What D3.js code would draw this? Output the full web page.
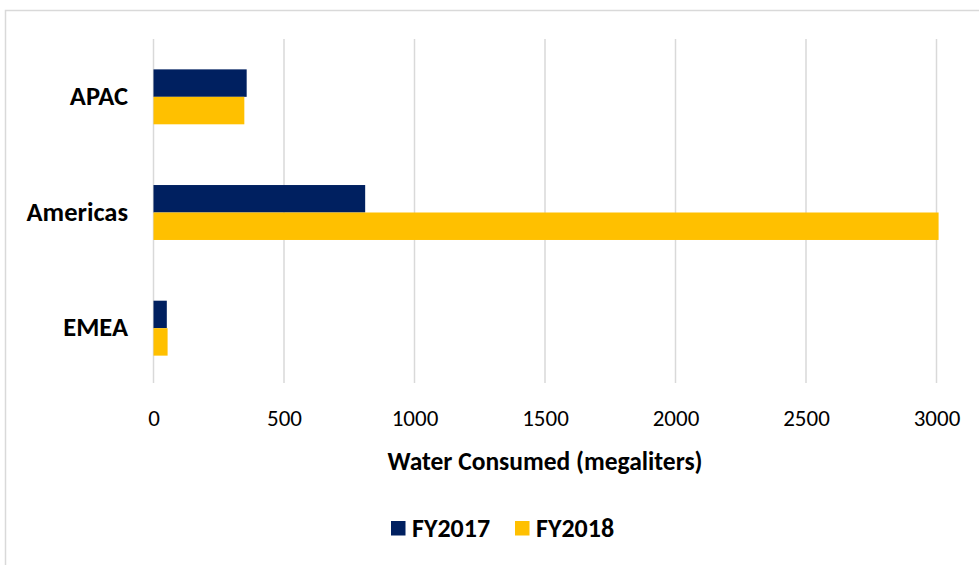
<!DOCTYPE html>
<html>
<head>
<meta charset="utf-8">
<style>
  html, body { margin: 0; padding: 0; background: #fff; }
  svg { display: block; font-family: Carlito, Calibri, "Liberation Sans", sans-serif; }
</style>
</head>
<body>
<svg width="979" height="565"></svg>
<script src="https://d3js.org/d3.v7.min.js"></script>
<script>

var regions = ["APAC", "Americas", "EMEA"];
var series = ["FY2017", "FY2018"];
var fy2017 = [357, 811, 51];
var fy2018 = [348, 3008, 54];
var xTicks = [0, 500, 1000, 1500, 2000, 2500, 3000];
var colors = ["#002060", "#FFC000"];

var svg = d3.select("svg"),
    width = +svg.attr("width"),
    height = +svg.attr("height");

var font = "Carlito, Calibri, 'Liberation Sans', sans-serif";

// chart frame (only left and top edges are visible)
svg.append("rect")
    .attr("x", 5.5).attr("y", 10.5)
    .attr("width", width + 10).attr("height", height + 10)
    .attr("fill", "none")
    .attr("stroke", "#d9d9d9")
    .attr("stroke-width", 1.5);

var plot = {left: 153.5, right: 936.5, top: 39, bottom: 386};

var x = d3.scaleLinear()
    .domain([0, 3000])
    .range([plot.left, plot.right]);

var y = d3.scaleBand()
    .domain(regions)
    .range([plot.top, plot.bottom])
    .paddingInner(0.525)
    .paddingOuter(0.2625);

var ySub = d3.scaleBand()
    .domain(series)
    .range([0, y.bandwidth()]);

// gridlines
svg.append("g")
  .selectAll("line")
  .data(xTicks)
  .join("line")
    .attr("x1", function(d) { return x(d); })
    .attr("x2", function(d) { return x(d); })
    .attr("y1", plot.top)
    .attr("y2", plot.bottom - 3)
    .attr("stroke", "#d9d9d9")
    .attr("stroke-width", 1.5);

var rows = regions.map(function(r, i) {
  return {region: r, values: [fy2017[i], fy2018[i]]};
});

var group = svg.append("g")
  .selectAll("g")
  .data(rows)
  .join("g")
    .attr("transform", function(d) { return "translate(0," + y(d.region) + ")"; });

group.selectAll("rect")
  .data(function(d) { return d.values.map(function(v, j) { return {s: series[j], v: v, j: j}; }); })
  .join("rect")
    .attr("x", x(0))
    .attr("y", function(d) { return ySub(d.s); })
    .attr("width", function(d) { return x(d.v) - x(0); })
    .attr("height", ySub.bandwidth())
    .attr("fill", function(d) { return colors[d.j]; });

// category labels
svg.append("g")
  .selectAll("text")
  .data(regions)
  .join("text")
    .attr("x", 128)
    .attr("y", function(d) { return y(d) + y.bandwidth() / 2 + 8.3; })
    .attr("text-anchor", "end")
    .attr("font-weight", "bold")
    .attr("font-size", 26.5)
    .attr("fill", "#000")
    .text(function(d) { return d; });

// x tick labels
var xAxis = svg.append("g")
    .attr("transform", "translate(0," + 425.7 + ")")
    .call(d3.axisBottom(x).tickValues(xTicks).tickSize(0).tickPadding(0).tickFormat(d3.format("d")));
xAxis.attr("font-family", font).attr("font-size", 23);
xAxis.select(".domain").remove();
xAxis.selectAll("text")
    .attr("dy", null)
    .attr("y", 0)
    .attr("fill", "#000");

// axis title
svg.append("text")
    .attr("x", (plot.left + plot.right) / 2)
    .attr("y", 469.5)
    .attr("text-anchor", "middle")
    .attr("font-weight", "bold")
    .attr("font-size", 25.5)
    .text("Water Consumed (megaliters)");

// legend
var legend = svg.append("g")
  .selectAll("g")
  .data(series)
  .join("g")
    .attr("transform", function(d, i) { return "translate(" + (391 + i * 124) + ",521)"; });

legend.append("rect")
    .attr("width", 14.5).attr("height", 14.5)
    .attr("fill", function(d, i) { return colors[i]; });

legend.append("text")
    .attr("x", 21)
    .attr("y", 15.7)
    .attr("font-weight", "bold")
    .attr("font-size", 26)
    .text(function(d) { return d; });

</script>
</body>
</html>
